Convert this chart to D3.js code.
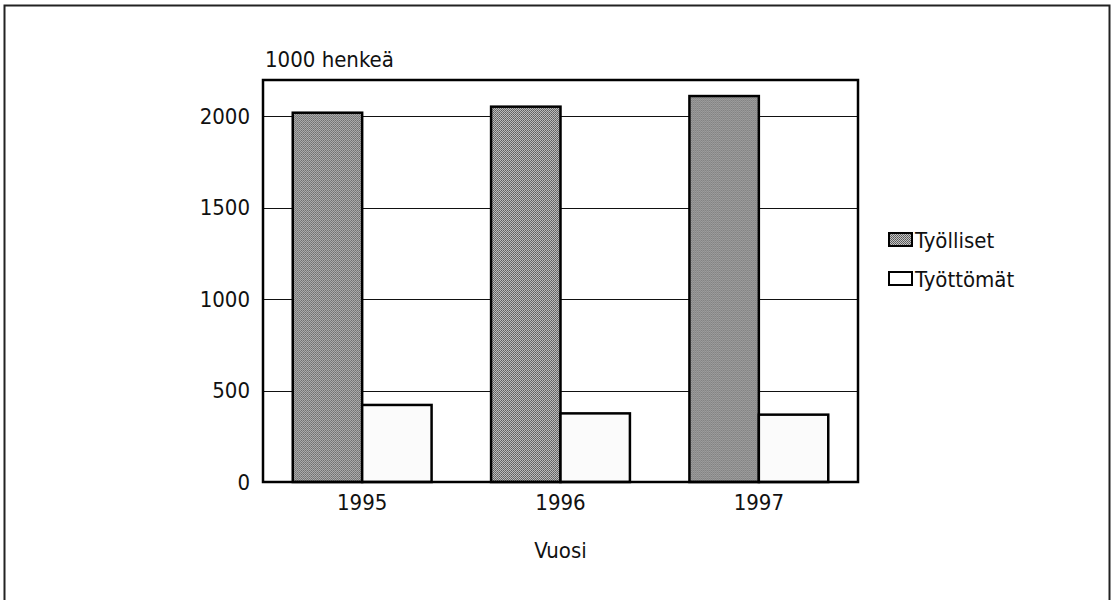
<!DOCTYPE html>
<html>
<head>
<meta charset="utf-8">
<script src="https://cdn.jsdelivr.net/npm/d3@7"></script>
<style>
  body { margin: 0; background: #fff; }
  svg text { font-family: "DejaVu Sans", sans-serif; font-stretch: condensed; fill: #111; }
</style>
</head>
<body>
<div id="chart"></div>
<script>
// DATA
let years = ['1995', '1996', '1997'];
let seriesNames = ['Työlliset', 'Työttömät'];
let tyolliset = [2018, 2051, 2109];
let tyottomat = [421, 375, 368];
let yTicks = [0, 500, 1000, 1500, 2000];

let width = 1114,
    height = 600;

let margin = {top: 80, right: 256, bottom: 118, left: 263};
let fontSize = '22px';

let svg = d3.select('#chart')
    .append('svg')
    .attr('width', width)
    .attr('height', height);

// outer frame
svg.append('rect')
    .attr('x', 4.5)
    .attr('y', 5.5)
    .attr('width', 1105)
    .attr('height', 620)
    .attr('fill', 'none')
    .attr('stroke', '#222')
    .attr('stroke-width', 2);

// dither pattern for dark bars
let defs = svg.append('defs');
let pat = defs.append('pattern')
    .attr('id', 'dark')
    .attr('width', 2)
    .attr('height', 2)
    .attr('patternUnits', 'userSpaceOnUse');
pat.append('rect').attr('width', 2).attr('height', 2).attr('fill', '#c4c4c4');
pat.append('rect').attr('width', 1).attr('height', 1).attr('fill', '#555');
pat.append('rect').attr('x', 1).attr('y', 1).attr('width', 1).attr('height', 1).attr('fill', '#666');

let x0 = d3.scaleBand()
    .domain(years)
    .range([margin.left, width - margin.right])
    .paddingInner(0.3)
    .paddingOuter(0.15);

let x1 = d3.scaleBand()
    .domain(seriesNames)
    .range([0, x0.bandwidth()]);

let y = d3.scaleLinear()
    .domain([0, 2000])
    .range([height - margin.bottom, 116]);

let plotTop = margin.top,
    plotBottom = height - margin.bottom;

// gridlines
svg.append('g')
    .selectAll('line')
    .data(yTicks.filter(d => d > 0))
    .enter()
    .append('line')
    .attr('x1', margin.left)
    .attr('x2', width - margin.right)
    .attr('y1', d => Math.round(y(d)) + 0.5)
    .attr('y2', d => Math.round(y(d)) + 0.5)
    .attr('stroke', '#111')
    .attr('stroke-width', 1);

// bars
let rows = years.map((yr, i) => ({year: yr, values: [tyolliset[i], tyottomat[i]]}));

svg.append('g')
    .selectAll('g')
    .data(rows)
    .enter()
    .append('g')
    .attr('transform', d => `translate(${x0(d.year)},0)`)
    .selectAll('rect')
    .data(d => d.values.map((v, j) => ({name: seriesNames[j], value: v})))
    .enter()
    .append('rect')
    .attr('x', d => x1(d.name))
    .attr('y', d => y(d.value))
    .attr('width', x1.bandwidth())
    .attr('height', d => y(0) - y(d.value))
    .attr('fill', d => d.name === seriesNames[0] ? 'url(#dark)' : '#fbfbfb')
    .attr('stroke', '#000')
    .attr('stroke-width', 2.5);

// plot frame
svg.append('rect')
    .attr('x', margin.left)
    .attr('y', plotTop)
    .attr('width', width - margin.right - margin.left)
    .attr('height', plotBottom - plotTop)
    .attr('fill', 'none')
    .attr('stroke', '#000')
    .attr('stroke-width', 2.5);

// y axis labels
let yAxis = d3.axisLeft(y)
    .tickValues(yTicks)
    .tickFormat(d3.format('d'))
    .tickSize(0)
    .tickPadding(13);

svg.append('g')
    .attr('transform', `translate(${margin.left},0)`)
    .call(yAxis)
    .attr('font-family', null)
    .attr('font-size', null)
    .call(g => g.select('.domain').remove())
    .selectAll('text')
    .style('font-size', fontSize);

// x axis labels
let xAxis = d3.axisBottom(x0)
    .tickSize(0)
    .tickPadding(12);

svg.append('g')
    .attr('transform', `translate(0,${plotBottom})`)
    .call(xAxis)
    .attr('font-family', null)
    .attr('font-size', null)
    .call(g => g.select('.domain').remove())
    .selectAll('text')
    .style('font-size', fontSize);

// axis titles
svg.append('text')
    .attr('x', margin.left + 2)
    .attr('y', 67)
    .style('font-size', fontSize)
    .text('1000 henkeä');

svg.append('text')
    .attr('x', (margin.left + width - margin.right) / 2)
    .attr('y', 558)
    .attr('text-anchor', 'middle')
    .style('font-size', fontSize)
    .text('Vuosi');

// legend
let legend = svg.append('g')
    .selectAll('g')
    .data(seriesNames)
    .enter()
    .append('g')
    .attr('transform', (d, i) => `translate(889,${233 + i * 39})`);

legend.append('rect')
    .attr('width', 23)
    .attr('height', 13)
    .attr('fill', (d, i) => i === 0 ? 'url(#dark)' : '#fff')
    .attr('stroke', '#000')
    .attr('stroke-width', 2);

legend.append('text')
    .attr('x', 26)
    .attr('y', 15)
    .style('font-size', fontSize)
    .text(d => d);
</script>
</body>
</html>
